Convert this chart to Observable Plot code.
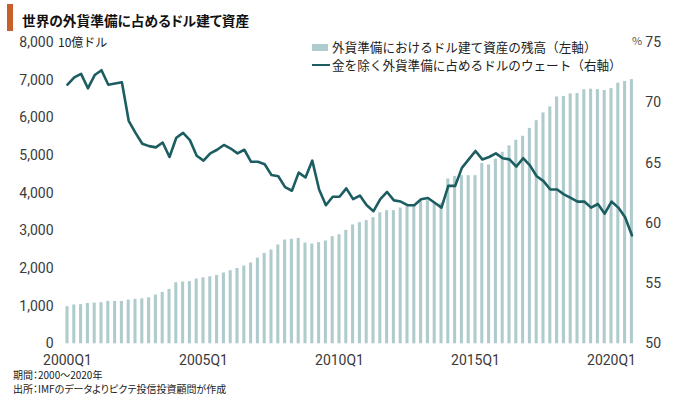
<!DOCTYPE html>
<html><head><meta charset="utf-8">
<script src="https://cdn.jsdelivr.net/npm/d3@7"></script>
<script src="https://cdn.jsdelivr.net/npm/@observablehq/plot@0.6"></script>
<style>
body{margin:0;background:#fff;font-family:"Noto Sans CJK JP","Noto Sans",sans-serif;}
#wrap{position:relative;width:680px;height:399px;overflow:hidden;background:#fff;}
.abs{position:absolute;white-space:nowrap;line-height:1;}
#chart{position:absolute;left:0;top:0;}
.palt{font-feature-settings:"palt";}
</style></head><body>
<div id="wrap">
  <div id="chart"></div>
  <div class="abs" style="left:7px;top:4px;width:6px;height:27px;background:#c9602c"></div>
  <div class="abs palt" style="left:22px;top:14px;font-size:13.7px;font-weight:bold;color:#111">世界の外貨準備に占めるドル建て資産</div>
  <div class="abs" style="left:58px;top:35.5px;font-size:12px;color:#222">10億ドル</div>
  <div class="abs" style="left:632px;top:35px;font-size:11px;color:#555">%</div>
  <div class="abs" style="left:312px;top:44px;width:16px;height:7px;background:#afcbcd"></div>
  <div class="abs" style="left:332px;top:41px;font-size:12.6px;color:#222">外貨準備におけるドル建て資産の残高（左軸）</div>
  <div class="abs" style="left:312px;top:63.5px;width:18px;height:2.6px;background:#1c5d61"></div>
  <div class="abs" style="left:332px;top:58.5px;font-size:12.6px;color:#222">金を除く外貨準備に占めるドルのウェート（右軸）</div>
  <div class="abs palt" style="left:13px;top:369.5px;font-size:10px;color:#222">期間：2000～2020年</div>
  <div class="abs palt" style="left:13px;top:384px;font-size:10px;color:#222">出所：IMFのデータよりピクテ投信投資顧問が作成</div>
</div>
<script>
const quarters = [
"2000Q1","2000Q2","2000Q3","2000Q4","2001Q1","2001Q2","2001Q3","2001Q4",
"2002Q1","2002Q2","2002Q3","2002Q4","2003Q1","2003Q2","2003Q3","2003Q4",
"2004Q1","2004Q2","2004Q3","2004Q4","2005Q1","2005Q2","2005Q3","2005Q4",
"2006Q1","2006Q2","2006Q3","2006Q4","2007Q1","2007Q2","2007Q3","2007Q4",
"2008Q1","2008Q2","2008Q3","2008Q4","2009Q1","2009Q2","2009Q3","2009Q4",
"2010Q1","2010Q2","2010Q3","2010Q4","2011Q1","2011Q2","2011Q3","2011Q4",
"2012Q1","2012Q2","2012Q3","2012Q4","2013Q1","2013Q2","2013Q3","2013Q4",
"2014Q1","2014Q2","2014Q3","2014Q4","2015Q1","2015Q2","2015Q3","2015Q4",
"2016Q1","2016Q2","2016Q3","2016Q4","2017Q1","2017Q2","2017Q3","2017Q4",
"2018Q1","2018Q2","2018Q3","2018Q4","2019Q1","2019Q2","2019Q3","2019Q4",
"2020Q1","2020Q2","2020Q3","2020Q4"];

// ドル建て資産の残高（10億ドル、左軸）
const usdReserves = [
 985,1030,1040,1070,1080,1090,1125,1125,1125,1160,
 1180,1195,1220,1295,1365,1445,1620,1640,1650,1720,
 1750,1780,1815,1880,1940,2000,2065,2145,2275,2400,
 2490,2625,2755,2775,2800,2675,2650,2685,2730,2845,
 2895,3010,3155,3215,3270,3350,3480,3535,3535,3605,
 3640,3675,3775,3800,3755,3730,4375,4445,4465,4465,
 4465,4790,4750,4900,5085,5255,5405,5510,5720,5925,
 6130,6290,6555,6565,6635,6645,6745,6760,6750,6725,
 6775,6920,6965,7015];

// ドルのウェート（%、右軸）
const usdShare = [
 71.5,72.1,72.4,71.2,72.3,72.7,71.5,71.6,71.7,68.5,
 67.5,66.6,66.4,66.3,66.7,65.5,67.1,67.5,66.9,65.6,
 65.2,65.8,66.1,66.5,66.2,65.8,66.1,65.1,65.1,64.9,
 64.0,63.9,63.0,62.7,64.2,63.8,65.2,62.8,61.5,62.2,
 62.2,62.9,62.0,62.3,61.5,61.0,62.0,62.6,61.9,61.8,
 61.5,61.5,62.0,62.1,61.7,61.3,63.1,63.1,64.6,65.3,
 66.0,65.3,65.5,65.8,65.4,65.3,64.7,65.4,64.8,63.9,
 63.5,62.8,62.8,62.4,62.1,61.8,61.8,61.3,61.6,60.8,
 61.8,61.3,60.5,59.0];

const xTicks = ["2000Q1","2005Q1","2010Q1","2015Q1","2020Q1"];
const leftTicks = [0,1000,2000,3000,4000,5000,6000,7000,8000];
const rightTicks = [50,55,60,65,70,75];

const leftMax = 8000, rMin = 50, rMax = 75;
const toLeft = v => (v - rMin) * leftMax / (rMax - rMin);
const toRight = v => v * (rMax - rMin) / leftMax + rMin;

const rows = quarters.map((q, i) => ({q, usd: usdReserves[i], share: usdShare[i]}));

const barColor = "#afcbcd";
const lineColor = "#1c5d61";

const chart = Plot.plot({
  width: 680, height: 399,
  marginTop: 42, marginBottom: 55.7, marginLeft: 63.6, marginRight: 45.2,
  style: {fontFamily: 'Roboto,"Noto Sans CJK JP",sans-serif', fontSize: "14px", color: "#3a3a3a", background: "transparent"},
  x: {type: "band", domain: quarters, paddingInner: 0.55, paddingOuter: 0.275},
  y: {domain: [0, leftMax]},
  marks: [
    Plot.barY(rows, {x: "q", y: "usd", fill: barColor}),
    Plot.line(rows, {x: "q", y: d => toLeft(d.share), stroke: lineColor, strokeWidth: 2.6, strokeLinejoin: "round"}),
    Plot.axisX({ticks: xTicks, tickSize: 0, tickPadding: 11, label: null}),
    Plot.axisY({ticks: leftTicks, anchor: "left", tickSize: 0, tickPadding: 10.6, tickFormat: d3.format(","), label: null}),
    Plot.axisY({ticks: rightTicks.map(toLeft), anchor: "right", tickSize: 0, tickPadding: 10, tickFormat: d => String(Math.round(toRight(d))), label: null})
  ]
});
document.getElementById("chart").appendChild(chart);
</script>
</body></html>
